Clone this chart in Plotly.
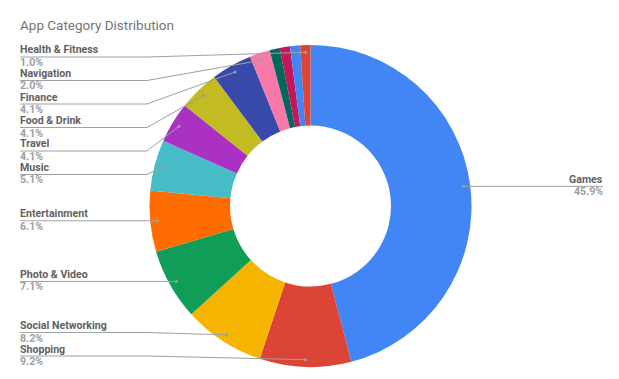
import math
import plotly.graph_objects as go

# ---------------- data ----------------
categories = ["Games", "Shopping", "Social Networking", "Photo & Video", "Entertainment",
              "Music", "Travel", "Food & Drink", "Finance", "Navigation",
              "Other 1", "Other 2", "Other 3", "Health & Fitness"]
app_counts = [45, 9, 8, 7, 6, 5, 4, 4, 4, 2, 1, 1, 1, 1]
label_shown = [True] * 10 + [False] * 3 + [True]
slice_colors = ["#4285F4", "#DB4437", "#F4B400", "#0F9D58", "#FF6D00", "#46BDC6",
                "#AB30C4", "#C2BB21", "#3949AB", "#F878A8", "#00695C", "#C2185B",
                "#4285F4", "#DB4437"]

# ---------------- layout constants ----------------
W, H = 619, 379
CX, CY, R = 310.5, 206.0, 161.0
HOLE = 0.5
DOT_FRAC = 0.955
LABEL_X, BEND_X, RIGHT_X = 20, 147, 603
LABEL_TOP, LABEL_BOTTOM, LABEL_GAP = 57.0, 356.0, 23.5
FONT = "Roboto"
LABEL_SIZE = 10.6
LINE_COLOR = "#A0A0A0"


def px(x):
    return x / W


def py(y):
    return 1 - y / H


total = sum(app_counts)
fig = go.Figure()
fig.add_trace(go.Pie(
    labels=categories, values=app_counts, sort=False, direction="clockwise",
    rotation=0, hole=HOLE, textinfo="none",
    marker=dict(colors=slice_colors, line=dict(width=0)),
    domain=dict(x=[px(CX - R), px(CX + R)], y=[py(CY + R), py(CY - R)]),
    showlegend=False,
))

# slice mid points (dots) from data
cum = 0
left, right = [], []
for name, v, show in zip(categories, app_counts, label_shown):
    theta = 2 * math.pi * (cum + v / 2) / total
    cum += v
    if not show:
        continue
    dx = CX + R * DOT_FRAC * math.sin(theta)
    dy = CY - R * DOT_FRAC * math.cos(theta)
    pct = f"{100 * v / total:.1f}%"
    item = dict(name=name, pct=pct, dx=dx, dy=dy)
    (right if math.sin(theta) > 0 else left).append(item)

# left side label placement
left.sort(key=lambda d: d["dy"])
prev = None
for d in left:
    y = min(max(d["dy"], LABEL_TOP), LABEL_BOTTOM)
    if prev is not None:
        y = max(y, prev + LABEL_GAP)
    d["ly"] = min(y, LABEL_BOTTOM)
    prev = d["ly"]
nxt = None
for d in reversed(left):
    if nxt is not None:
        d["ly"] = min(d["ly"], nxt - LABEL_GAP)
    nxt = d["ly"]
for d in right:
    d["ly"] = d["dy"]

shapes, annotations = [], []
for d in left + right:
    ly = d["ly"]
    if d in left:
        if d["dx"] > BEND_X:
            path = f"M {px(LABEL_X)},{py(ly)} L {px(BEND_X)},{py(ly)} L {px(d['dx'])},{py(d['dy'])}"
        else:
            path = f"M {px(LABEL_X)},{py(ly)} L {px(d['dx'])},{py(d['dy'])}"
        tx, anchor = LABEL_X - 1, "left"
    else:
        path = f"M {px(d['dx'])},{py(d['dy'])} L {px(RIGHT_X)},{py(ly)}"
        tx, anchor = RIGHT_X + 1, "right"
    shapes.append(dict(type="path", path=path, xref="paper", yref="paper",
                       line=dict(color=LINE_COLOR, width=1), layer="above"))
    shapes.append(dict(type="circle", xref="paper", yref="paper",
                       x0=px(d["dx"] - 1.5), x1=px(d["dx"] + 1.5),
                       y0=py(d["dy"] + 1.5), y1=py(d["dy"] - 1.5),
                       fillcolor="#9E9E9E", line=dict(width=0), layer="above"))
    annotations.append(dict(x=px(tx), y=py(ly + 0.5), xref="paper", yref="paper",
                            xanchor=anchor, yanchor="bottom", showarrow=False,
                            borderpad=0, text=d["name"],
                            font=dict(family=FONT, size=LABEL_SIZE, color="#616161", weight=700)))
    annotations.append(dict(x=px(tx), y=py(ly - 2), xref="paper", yref="paper",
                            xanchor=anchor, yanchor="top", showarrow=False,
                            borderpad=0, text=d["pct"],
                            font=dict(family=FONT, size=LABEL_SIZE, color="#9E9E9E", weight=700)))

fig.update_layout(
    width=W, height=H, margin=dict(l=0, r=0, t=0, b=0),
    paper_bgcolor="white", plot_bgcolor="white",
    title=dict(text="App Category Distribution", x=px(20), xanchor="left",
               y=py(25), yanchor="middle", xref="paper", yref="paper",
               font=dict(family=FONT, size=13.5, color="#757575")),
    shapes=shapes, annotations=annotations,
)

fig.write_html("out.html", config={"displayModeBar": False},
               post_script="document.body.style.margin='0';")
